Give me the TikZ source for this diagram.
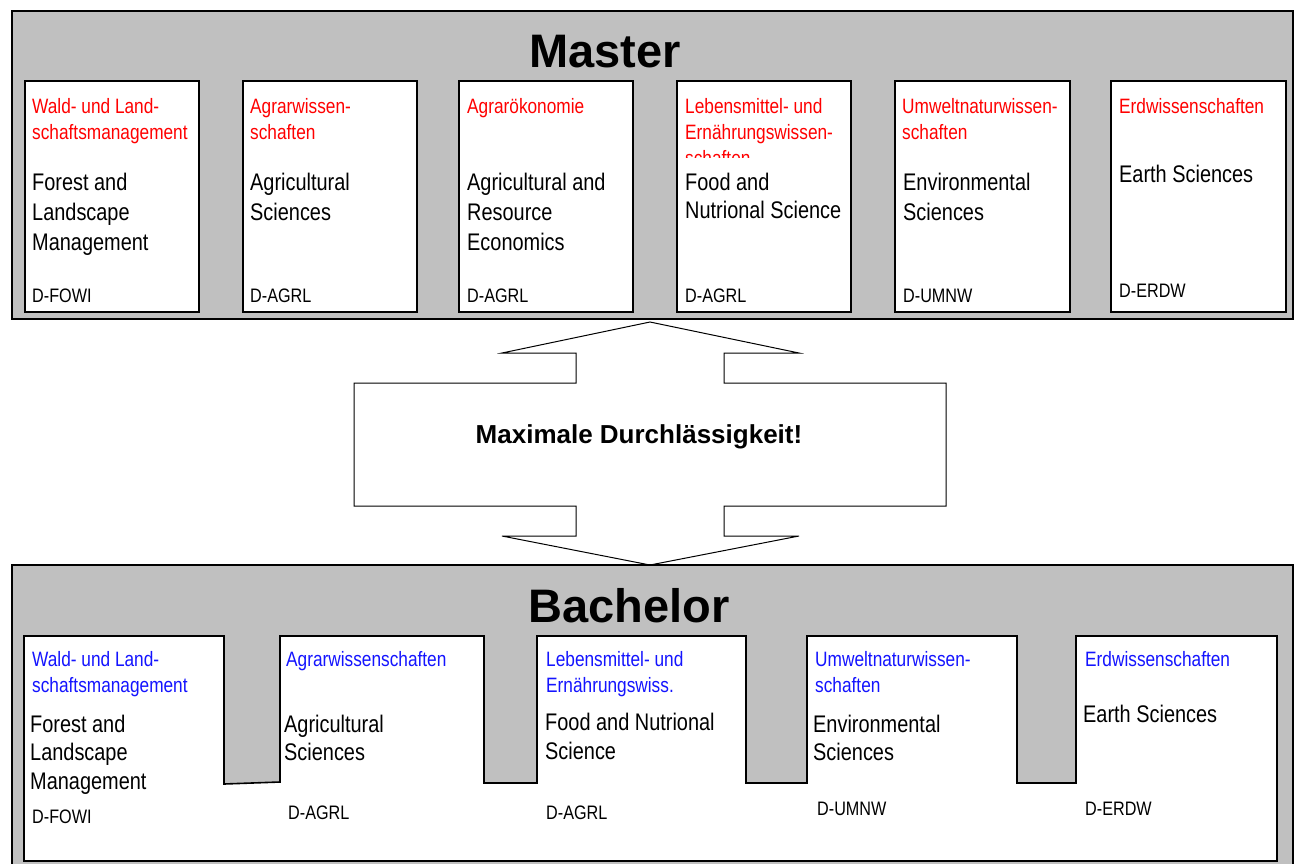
\documentclass[tikz,border=0pt]{standalone}
\usepackage{fontspec}
\setmainfont{Liberation Sans}
\newfontfamily\nar[FakeStretch=0.83]{Liberation Sans}
\definecolor{panelgrey}{RGB}{192,192,192}
\definecolor{mred}{RGB}{255,0,0}
\definecolor{bblue}{RGB}{20,20,255}
\newcommand\putlines[6]{\foreach \ln [count=\k] in {#6}{\node[#5, anchor=base west] (#1-\k) at (#2, {#3+(\k-1)*#4}) {\ln};}}
\begin{document}
\begin{tikzpicture}[x=1pt,y=-1pt,
  panel/.style={draw=black, fill=panelgrey, line width=1.6pt},
  wbox/.style={draw=black, fill=white, line width=1.6pt, inner sep=0pt, anchor=north west},
  detxt/.style={inner sep=0pt, font=\nar\fontsize{20.8}{20.8}\selectfont},
  redtxt/.style={detxt, text=mred},
  bluetxt/.style={detxt, text=bblue},
  entxt/.style={inner sep=0pt, font=\nar\fontsize{24}{24}\selectfont, text=black},
  deptxt/.style={inner sep=0pt, font=\nar\fontsize{19.5}{19.5}\selectfont, text=black},
  titletxt/.style={inner sep=0pt, font=\bfseries\fontsize{47}{47}\selectfont, anchor=base},
  arrowshape/.style={draw=black, fill=white, line width=1pt}
]
\clip (0,0) rectangle (1296,863);
\fill[white] (0,0) rectangle (1296,863);

% ---------------- Master panel ----------------
\draw[panel] (12,11) rectangle (1293,319);
\node[titletxt] (master) at (605,67) {Master};

\node[wbox, minimum width=174pt, minimum height=231pt] (m1) at (24,80) {};
\node[wbox, minimum width=174pt, minimum height=231pt] (m2) at (242,80) {};
\node[wbox, minimum width=174pt, minimum height=231pt] (m3) at (458,80) {};
\node[wbox, minimum width=174pt, minimum height=231pt] (m4) at (676,80) {};
\node[wbox, minimum width=175pt, minimum height=231pt] (m5) at (894,80) {};
\node[wbox, minimum width=175pt, minimum height=231pt] (m6) at (1110,80) {};

% box 1
\putlines{m1de}{32}{113}{26}{redtxt}{Wald- und Land-,schaftsmanagement}
\putlines{m1en}{32}{190}{30}{entxt}{Forest and,Landscape,Management}
\node[deptxt, anchor=base west] (m1dep) at (32,302) {D-FOWI};
% box 2
\putlines{m2de}{250}{113}{26}{redtxt}{Agrarwissen-,schaften}
\putlines{m2en}{250}{190}{30}{entxt}{Agricultural,Sciences}
\node[deptxt, anchor=base west] (m2dep) at (250,302) {D-AGRL};
% box 3
\putlines{m3de}{467}{113}{26}{redtxt}{Agrarökonomie}
\putlines{m3en}{467}{190}{30}{entxt}{Agricultural and,Resource,Economics}
\node[deptxt, anchor=base west] (m3dep) at (467,302) {D-AGRL};
% box 4
\begin{scope}
  \clip (676,80) rectangle (850,157);
  \putlines{m4de}{685}{113}{26}{redtxt}{Lebensmittel- und,Ernährungswissen-,schaften}
\end{scope}
\putlines{m4en}{685}{190}{28}{entxt}{Food and,Nutrional Science}
\node[deptxt, anchor=base west] (m4dep) at (685,302) {D-AGRL};
% box 5
\putlines{m5de}{902}{113}{26}{redtxt}{Umweltnaturwissen-,schaften}
\putlines{m5en}{903}{190}{30}{entxt}{Environmental,Sciences}
\node[deptxt, anchor=base west] (m5dep) at (903,302) {D-UMNW};
% box 6
\putlines{m6de}{1119}{113}{26}{redtxt}{Erdwissenschaften}
\putlines{m6en}{1119}{182}{30}{entxt}{Earth Sciences}
\node[deptxt, anchor=base west] (m6dep) at (1119,297) {D-ERDW};

% ---------------- Double arrow ----------------
\draw[arrowshape] (650,322) -- (799,353) -- (724,353) -- (724,383) -- (946,383)
  -- (946,506) -- (724,506) -- (724,536) -- (799,536) -- (650,565) -- (502,536)
  -- (576,536) -- (576,506) -- (354,506) -- (354,383) -- (576,383) -- (576,353)
  -- (502,353) -- cycle;
\node[inner sep=0pt, font=\bfseries\fontsize{26}{26}\selectfont, anchor=base] (perm) at (639,443) {Maximale Durchlässigkeit!};

% ---------------- Bachelor panel ----------------
\draw[panel] (12,565) rectangle (1293,880);
\node[titletxt] (bachelor) at (629,622) {Bachelor};

\draw[draw=black, fill=white, line width=1.6pt]
  (24,636) -- (224,636) -- (224,784) -- (280,782) -- (280,636)
  -- (484,636) -- (484,783) -- (537,783) -- (537,636)
  -- (746,636) -- (746,783) -- (807,783) -- (807,636)
  -- (1017,636) -- (1017,783) -- (1076,783) -- (1076,636)
  -- (1277,636) -- (1277,861) -- (24,861) -- cycle;

% box 1
\putlines{b1de}{32}{666}{26}{bluetxt}{Wald- und Land-,schaftsmanagement}
\putlines{b1en}{30}{732}{28.5}{entxt}{Forest and,Landscape,Management}
\node[deptxt, anchor=base west] (b1dep) at (32,823) {D-FOWI};
% box 2
\putlines{b2de}{286}{666}{26}{bluetxt}{Agrarwissenschaften}
\putlines{b2en}{284}{732}{28.5}{entxt}{Agricultural,Sciences}
\node[deptxt, anchor=base west] (b2dep) at (288,819) {D-AGRL};
% box 3
\putlines{b3de}{546}{666}{26}{bluetxt}{Lebensmittel- und,Ernährungswiss.}
\putlines{b3en}{545}{730}{29}{entxt}{Food and Nutrional,Science}
\node[deptxt, anchor=base west] (b3dep) at (546,819) {D-AGRL};
% box 4
\putlines{b4de}{815}{666}{26}{bluetxt}{Umweltnaturwissen-,schaften}
\putlines{b4en}{813}{732}{28.5}{entxt}{Environmental,Sciences}
\node[deptxt, anchor=base west] (b4dep) at (817,815) {D-UMNW};
% box 5
\putlines{b5de}{1085}{666}{26}{bluetxt}{Erdwissenschaften}
\putlines{b5en}{1083}{722}{28.5}{entxt}{Earth Sciences}
\node[deptxt, anchor=base west] (b5dep) at (1085,815) {D-ERDW};
\end{tikzpicture}
\end{document}
